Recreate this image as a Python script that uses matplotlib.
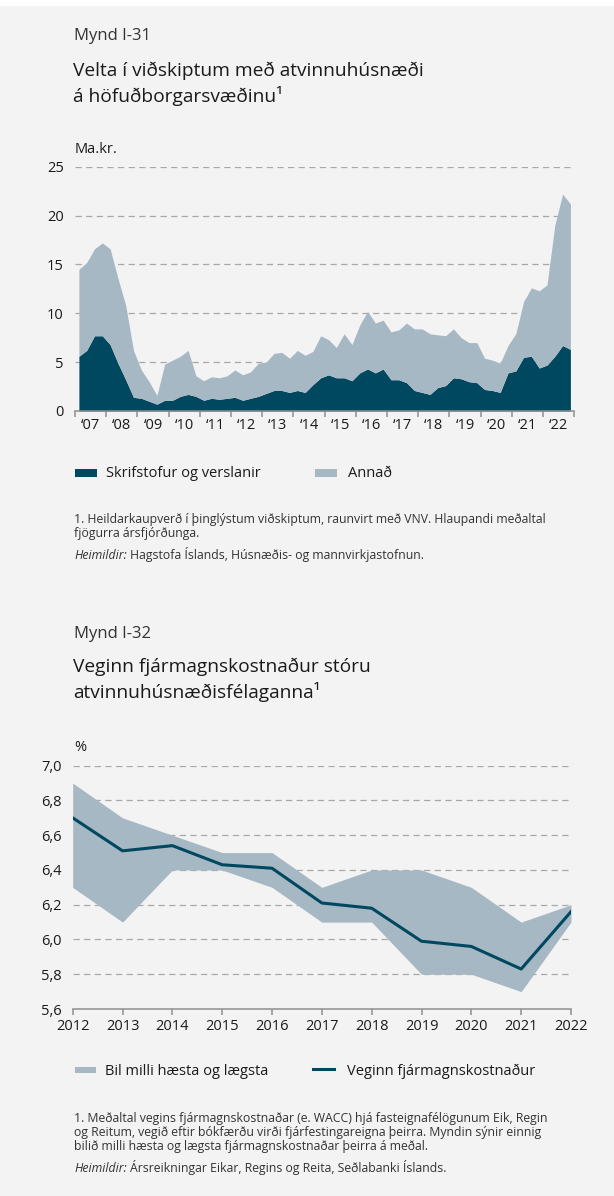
import numpy as np
import matplotlib
matplotlib.use('Agg')
import matplotlib.pyplot as plt
from matplotlib.patches import Rectangle
from matplotlib.lines import Line2D

plt.rcParams['font.family'] = ['Open Sans', 'DejaVu Sans']

# Mynd I-31: velta, ma.kr., ársfjórðungar 2007F1 - 2022F4
ar = list(range(2007, 2023))
skrifstofur = [5.6, 6.2, 7.7, 7.7, 6.8, 4.9, 3.2, 1.4,
               1.3, 1.0, 0.7, 1.1, 1.1, 1.5, 1.7, 1.5,
               1.1, 1.3, 1.2, 1.3, 1.4, 1.1, 1.3, 1.5,
               1.8, 2.1, 2.1, 1.9, 2.1, 1.9, 2.7, 3.4,
               3.7, 3.4, 3.4, 3.1, 3.9, 4.3, 3.9, 4.3,
               3.2, 3.2, 2.9, 2.1, 1.9, 1.7, 2.4, 2.6,
               3.4, 3.3, 3.0, 2.9, 2.2, 2.1, 1.9, 3.9,
               4.1, 5.5, 5.6, 4.4, 4.7, 5.6, 6.7, 6.3]
velta_alls = [14.5, 15.2, 16.6, 17.2, 16.6, 13.6, 10.8, 6.2,
              4.2, 3.0, 1.6, 4.8, 5.2, 5.6, 6.2, 3.6,
              3.1, 3.5, 3.4, 3.6, 4.2, 3.7, 4.0, 4.9,
              5.0, 5.9, 6.0, 5.4, 6.2, 5.7, 6.1, 7.7,
              7.3, 6.5, 7.9, 6.8, 8.8, 10.2, 9.0, 9.3,
              8.1, 8.3, 9.0, 8.4, 8.4, 7.9, 7.8, 7.7,
              8.4, 7.5, 7.0, 7.0, 5.4, 5.2, 4.9, 6.7,
              7.9, 11.2, 12.6, 12.3, 12.9, 19.0, 22.2, 21.2]

# Mynd I-32: veginn fjármagnskostnaður, %
ar2 = list(range(2012, 2023))
wacc = [6.70, 6.51, 6.54, 6.43, 6.41, 6.21, 6.18, 5.99, 5.96, 5.83, 6.16]
haest = [6.90, 6.70, 6.60, 6.50, 6.50, 6.30, 6.40, 6.40, 6.30, 6.10, 6.20]
laegst = [6.30, 6.10, 6.40, 6.40, 6.30, 6.10, 6.10, 5.80, 5.80, 5.70, 6.10]

dark = '#00485f'
light = '#a6b8c3'
bg = '#f3f3f3'
grid_c = '#a8a8a8'
axis_c = '#8f8f8f'
txt = '#1a1a1a'
foot_c = '#333333'
foot_fs = 8.8
title_fs = 13.8

W, H = 614, 1196
fig = plt.figure(figsize=(W / 100, H / 100), dpi=100, facecolor=bg)


def fx(px):
    return px / W


def fy(py):
    return 1 - py / H


def px_axes(left, top, right, bottom):
    ax = fig.add_axes([fx(left), fy(bottom), fx(right) - fx(left), fy(top) - fy(bottom)])
    ax.set_facecolor(bg)
    for s in ['top', 'right', 'left']:
        ax.spines[s].set_visible(False)
    ax.spines['bottom'].set_color(axis_c)
    ax.spines['bottom'].set_linewidth(1.1)
    ax.tick_params(axis='y', length=0, pad=8, labelsize=10.5, labelcolor=txt)
    ax.tick_params(axis='x', which='major', direction='out', length=4.5, width=1.1,
                   color=axis_c, labelsize=10.5, labelcolor=txt)
    ax.yaxis.grid(True, color=grid_c, linestyle=(0, (5, 3.5)), linewidth=0.9)
    ax.set_axisbelow(True)
    return ax


def heimildir(py, rest):
    # italic "Heimildir:" followed by the source text
    t = fig.text(fx(74), fy(py), 'Heimildir:', fontsize=foot_fs, color=foot_c,
                 va='baseline', style='italic')
    fig.canvas.draw()
    bb = t.get_window_extent()
    fig.text(bb.x1 / W + fx(3.5), fy(py), rest, fontsize=foot_fs, color=foot_c, va='baseline')


# white strip on top
fig.add_artist(Rectangle((0, fy(6)), 1, fy(0) - fy(6), transform=fig.transFigure,
                         facecolor='white', edgecolor='none'))

# ---------- Mynd I-31 ----------
fig.text(fx(74), fy(39.5), 'Mynd I-31', fontsize=12, color='#333333', va='baseline')
fig.text(fx(73), fy(76), 'Velta í viðskiptum með atvinnuhúsnæði', fontsize=title_fs,
         color=txt, va='baseline')
fig.text(fx(73), fy(102), 'á höfuðborgarsvæðinu\u00b9', fontsize=title_fs, color=txt, va='baseline')
fig.text(fx(75), fy(152.7), 'Ma.kr.', fontsize=10.5, color=txt, va='baseline')

ax1 = px_axes(75, 166.7, 574.3, 411)
xq = np.arange(ar[0], ar[-1] + 1, 0.25) + 0.125
ax1.fill_between(xq, 0, skrifstofur, color=dark, linewidth=0)
ax1.fill_between(xq, skrifstofur, velta_alls, color=light, linewidth=0)
ax1.set_xlim(ar[0], ar[-1] + 1)
ax1.set_ylim(0, 25)
ax1.set_yticks([0, 5, 10, 15, 20, 25])
ax1.set_xticks(list(range(ar[0], ar[-1] + 2)))
ax1.set_xticklabels([])
ax1.set_xticks([a + 0.5 for a in ar], minor=True)
ax1.set_xticklabels(['\u2018' + str(a)[2:] for a in ar], minor=True)
ax1.tick_params(axis='x', which='minor', length=0, pad=5, labelsize=10.5, labelcolor=txt)

# legend
fig.add_artist(Rectangle((fx(75.3), fy(477)), fx(96.7) - fx(75.3), fy(469) - fy(477),
                         transform=fig.transFigure, facecolor=dark, edgecolor='none'))
fig.text(fx(106), fy(477), 'Skrifstofur og verslanir', fontsize=10.5, color=txt, va='baseline')
fig.add_artist(Rectangle((fx(314.7), fy(477)), fx(336.7) - fx(314.7), fy(469) - fy(477),
                         transform=fig.transFigure, facecolor=light, edgecolor='none'))
fig.text(fx(348), fy(477), 'Annað', fontsize=10.5, color=txt, va='baseline')

fig.text(fx(74), fy(522.7), '1. Heildarkaupverð í þinglýstum viðskiptum, raunvirt með VNV. '
         'Hlaupandi meðaltal', fontsize=foot_fs, color=foot_c, va='baseline')
fig.text(fx(74), fy(537.3), 'fjögurra ársfjórðunga.', fontsize=foot_fs, color=foot_c, va='baseline')
heimildir(559, 'Hagstofa Íslands, Húsnæðis- og mannvirkjastofnun.')

# ---------- Mynd I-32 ----------
fig.text(fx(74), fy(638.5), 'Mynd I-32', fontsize=12, color='#333333', va='baseline')
fig.text(fx(73), fy(671.5), 'Veginn fjármagnskostnaður stóru', fontsize=title_fs,
         color=txt, va='baseline')
fig.text(fx(73), fy(698), 'atvinnuhúsnæðisfélaganna\u00b9', fontsize=title_fs, color=txt, va='baseline')
fig.text(fx(74), fy(751), '%', fontsize=10.5, color=txt, va='baseline')

ax2 = px_axes(72.7, 765.7, 571, 1009)
ax2.fill_between(ar2, laegst, haest, color=light, linewidth=0)
ax2.plot(ar2, wacc, color=dark, linewidth=2.2)
ax2.set_xlim(ar2[0], ar2[-1])
ax2.set_ylim(5.6, 7.0)
yt = [5.6, 5.8, 6.0, 6.2, 6.4, 6.6, 6.8, 7.0]
ax2.set_yticks(yt)
ax2.set_yticklabels([f'{v:.1f}'.replace('.', ',') for v in yt])
ax2.set_xticks(ar2)
ax2.tick_params(axis='x', pad=3)

fig.add_artist(Rectangle((fx(74.7), fy(1073.3)), fx(96) - fx(74.7), fy(1067.3) - fy(1073.3),
                         transform=fig.transFigure, facecolor=light, edgecolor='none'))
fig.text(fx(105), fy(1075), 'Bil milli hæsta og lægsta', fontsize=10.5, color=txt, va='baseline')
fig.add_artist(Line2D([fx(312.7), fx(334)], [fy(1069.3), fy(1069.3)], transform=fig.transFigure,
                      color=dark, linewidth=2.2))
fig.text(fx(347.3), fy(1075), 'Veginn fjármagnskostnaður', fontsize=10.5, color=txt, va='baseline')

foot2 = ['1. Meðaltal vegins fjármagnskostnaðar (e. WACC) hjá fasteignafélögunum Eik, Regin',
         'og Reitum, vegið eftir bókfærðu virði fjárfestingareigna þeirra. Myndin sýnir einnig',
         'bilið milli hæsta og lægsta fjármagnskostnaðar þeirra á meðal.']
for i, line in enumerate(foot2):
    fig.text(fx(74), fy(1121.7 + i * 14.3), line, fontsize=foot_fs, color=foot_c, va='baseline')
heimildir(1171.7, 'Ársreikningar Eikar, Regins og Reita, Seðlabanki Íslands.')

fig.savefig('out.png', dpi=100, facecolor=bg)
